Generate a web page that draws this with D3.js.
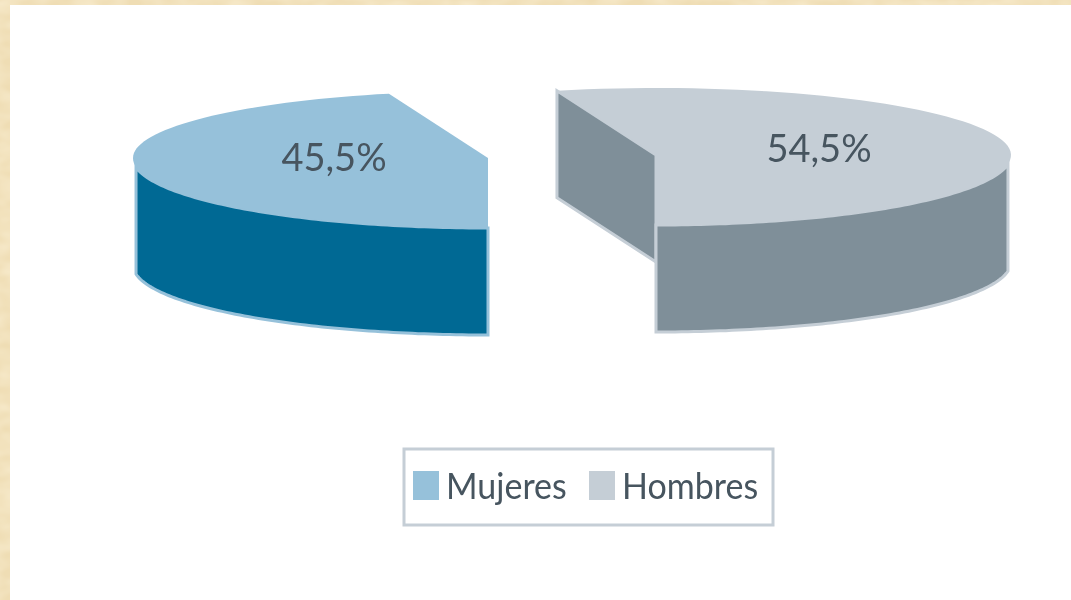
<!DOCTYPE html>
<html lang="es">
<head>
<meta charset="utf-8">
<title>Mujeres y hombres</title>
<script src="https://cdn.jsdelivr.net/npm/d3@7"></script>
<style>
  html, body { margin: 0; padding: 0; background: #fff; overflow: hidden; }
  svg { display: block; }
  text { font-family: Lato, "Open Sans", sans-serif; fill: #46545f; }
</style>
</head>
<body>
<svg id="chart" width="1071" height="600"></svg>
<script>
const categories = ["Mujeres", "Hombres"];
const shares = [45.5, 54.5];
const shareLabels = ["45,5%", "54,5%"];

const W = 1071, H = 600;
const topColor = d3.scaleOrdinal(categories, ["#96c1da", "#c5ced6"]);
const wallColor = d3.scaleOrdinal(categories, ["#006994", "#7f8f99"]);

// where each exploded slice has its tip, and where its label goes
const tips = { Mujeres: [488, 158], Hombres: [656, 155] };
const labelPos = { Mujeres: [334, 171], Hombres: [819, 162] };
const rx = 355, ryBack = 67, ryFront = 70, depth = 107;
// the wall stops a little short of the widest point of the disc
const wallSpan = 1.44;

const svg = d3.select("#chart");

const defs = svg.append("defs");
const paper = defs.append("filter").attr("id", "paper")
  .attr("color-interpolation-filters", "sRGB")
  .attr("x", 0).attr("y", 0).attr("width", "100%").attr("height", "100%");
paper.append("feTurbulence").attr("type", "fractalNoise")
  .attr("baseFrequency", "0.04 0.07").attr("numOctaves", 2).attr("seed", 4);
paper.append("feColorMatrix").attr("type", "matrix")
  .attr("values", "0 0 0 0 0.97  0 0 0 0 0.92  0 0 0 0 0.80  1.6 0 0 0 -0.45");
defs.append("filter").attr("id", "soft")
  .append("feGaussianBlur").attr("stdDeviation", 0.7);

// cream paper with the white panel on top
svg.append("rect").attr("width", W).attr("height", H).attr("fill", "#efddb4");
svg.append("rect").attr("width", W).attr("height", H).attr("filter", "url(#paper)");
svg.append("rect").attr("x", 10).attr("y", 5).attr("width", W - 10).attr("height", H - 5).attr("fill", "#fff");

const g = svg.append("g").attr("filter", "url(#soft)");

const pie = d3.pie().sort(null).startAngle(Math.PI).endAngle(3 * Math.PI);
const slices = pie(shares).map((d, i) => ({ ...d, name: categories[i], label: shareLabels[i] }));

// angle is clockwise from the top of the flattened disc
function rim(tip, a, dy = 0) {
  const c = Math.cos(a);
  return [tip[0] + rx * Math.sin(a), tip[1] - (c > 0 ? ryBack : ryFront) * c + dy];
}

function arcPoints(tip, a0, a1, dy = 0) {
  const n = 80;
  return d3.range(n + 1).map((i) => rim(tip, a0 + (a1 - a0) * i / n, dy));
}

const line = d3.line();

slices.forEach((d) => {
  const tip = tips[d.name];
  const top = topColor(d.name);
  const wall = wallColor(d.name);
  const layer = g.append("g")
    .attr("stroke", top).attr("stroke-width", 3).attr("stroke-linejoin", "miter");

  // cut face: only visible when the slice begins on the back left
  const startPt = rim(tip, d.startAngle);
  if (d.name === "Hombres") {
    layer.append("path")
      .attr("d", line([tip, startPt, [startPt[0], startPt[1] + depth], [tip[0], tip[1] + depth]]) + "Z")
      .attr("fill", wall);
  }

  // outer wall, front part of the rim only
  const front = d.startAngle > 1.5 * Math.PI ? 3 * Math.PI : Math.PI;
  const w0 = Math.max(d.startAngle, front - wallSpan);
  const w1 = Math.min(d.endAngle, front + wallSpan);
  const upper = arcPoints(tip, w0, w1);
  const lower = arcPoints(tip, w1, w0, depth);
  layer.append("path").attr("d", line(upper.concat(lower)) + "Z").attr("fill", wall);

  // top face
  layer.append("path")
    .attr("d", line([tip].concat(arcPoints(tip, d.startAngle, d.endAngle))) + "Z")
    .attr("fill", top)
    .attr("stroke", "none");

  g.append("text")
    .attr("x", labelPos[d.name][0]).attr("y", labelPos[d.name][1])
    .attr("text-anchor", "middle")
    .attr("font-size", 38)
    .text(d.label);
});

// legend
const legend = g.append("g");
legend.append("rect")
  .attr("x", 404).attr("y", 449).attr("width", 369).attr("height", 76)
  .attr("fill", "#fff").attr("stroke", "#c5ced6").attr("stroke-width", 3);

const legendX = d3.scaleOrdinal(categories, [413, 589]);
const item = legend.selectAll("g.item").data(categories).enter().append("g").attr("class", "item");
item.append("rect")
  .attr("x", (d) => legendX(d)).attr("y", 471)
  .attr("width", 26).attr("height", 29)
  .attr("fill", (d) => topColor(d));
item.append("text")
  .attr("transform", (d) => `translate(${legendX(d) + 33},499) scale(0.92,1)`)
  .attr("font-size", 37)
  .text((d) => d);
</script>
</body>
</html>
